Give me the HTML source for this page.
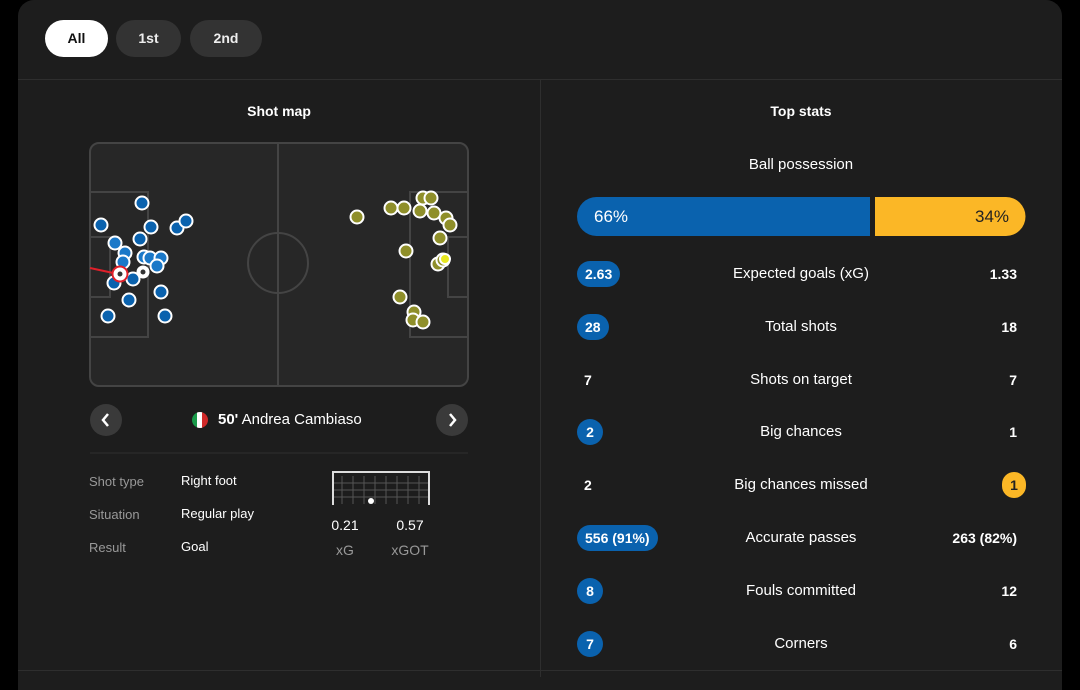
<!DOCTYPE html>
<html><head><meta charset="utf-8"><style>
*{margin:0;padding:0;box-sizing:border-box}
body{width:1080px;height:677px;background:#000;font-family:"Liberation Sans",sans-serif;color:#fff;position:relative;overflow:hidden}
.card{position:absolute;left:18px;top:0;width:1044px;height:690px;background:#1d1d1d;border-radius:16px 16px 0 0}
.btn{position:absolute;top:20px;height:37px;border-radius:19px;background:#333;color:#eee;font-size:14px;font-weight:bold;line-height:37px;text-align:center}
.t{position:absolute;font-size:14px}
.pill{position:absolute;left:577px;height:26px;border-radius:13px;background:#0a62ae;font-size:14px;font-weight:bold;line-height:26px;text-align:center;padding:0 8px}
.lab{position:absolute;left:640px;width:322px;text-align:center;font-size:15px}
.rv{position:absolute;right:63px;font-size:14px;font-weight:bold}
.lv{position:absolute;left:584px;font-size:14px;font-weight:bold}
.g{color:#999;font-size:13px}
</style></head><body>
<div class="card"></div>
<div class="btn" style="left:45px;width:63px;background:#fff;color:#111">All</div>
<div class="btn" style="left:116px;width:65px">1st</div>
<div class="btn" style="left:190px;width:72px">2nd</div>
<div style="position:absolute;left:18px;top:79px;width:1044px;height:1px;background:#2e2e2e"></div>
<div style="position:absolute;left:540px;top:80px;width:1px;height:597px;background:#2e2e2e"></div>
<div style="position:absolute;left:18px;top:670px;width:1044px;height:1px;background:#2e2e2e"></div>
<div class="t" style="left:90px;width:378px;text-align:center;top:103px;font-weight:bold">Shot map</div>
<div class="t" style="left:640px;width:322px;text-align:center;top:103px;font-weight:bold">Top stats</div>
<svg style="position:absolute;left:0;top:0" width="1080" height="677">
<g fill="none" stroke="#444" stroke-width="2">
<rect x="90" y="143" width="378" height="243" rx="9" fill="#272727"/>
<line x1="278" y1="143" x2="278" y2="386"/>
<circle cx="278" cy="263" r="30"/>
<rect x="90" y="192" width="58" height="145"/>
<rect x="90" y="237" width="20" height="60"/>
<rect x="410" y="192" width="58" height="145"/>
<rect x="448" y="237" width="20" height="60"/>
</g>
<line x1="90" y1="268" x2="118" y2="274" stroke="#e0202a" stroke-width="2"/>
<g stroke="#fff" stroke-width="2" fill="#0a62ae">
<circle cx="142" cy="203" r="6.5"/><circle cx="101" cy="225" r="6.5"/><circle cx="151" cy="227" r="6.5"/><circle cx="177" cy="228" r="6.5"/><circle cx="186" cy="221" r="6.5"/><circle cx="140" cy="239" r="6.5"/><circle cx="115" cy="243" r="6.5" fill="#1a78c8"/><circle cx="125" cy="253" r="6.5" fill="#1a78c8"/><circle cx="144" cy="257" r="6.5" fill="#1a78c8"/><circle cx="150" cy="258" r="6.5" fill="#1a78c8"/><circle cx="161" cy="258" r="6.5" fill="#1a78c8"/><circle cx="157" cy="266" r="6.5" fill="#1a78c8"/><circle cx="123" cy="262" r="6.5" fill="#1a78c8"/><circle cx="114" cy="283" r="6.5"/><circle cx="133" cy="279" r="6.5"/><circle cx="161" cy="292" r="6.5"/><circle cx="129" cy="300" r="6.5"/><circle cx="108" cy="316" r="6.5"/><circle cx="165" cy="316" r="6.5"/>
</g>
<circle cx="120" cy="274" r="7.5" fill="#fff" stroke="#e0202a" stroke-width="2"/><circle cx="120" cy="274" r="2.5" fill="#333"/>
<circle cx="143" cy="272" r="6.5" fill="#fff"/><circle cx="143" cy="272" r="2.5" fill="#333"/>
<g stroke="#fff" stroke-width="2" fill="#8f8f2a">
<circle cx="357" cy="217" r="6.5"/><circle cx="391" cy="208" r="6.5"/><circle cx="404" cy="208" r="6.5"/><circle cx="423" cy="198" r="6.5"/><circle cx="431" cy="198" r="6.5"/><circle cx="420" cy="211" r="6.5"/><circle cx="434" cy="213" r="6.5"/><circle cx="446" cy="218" r="6.5"/><circle cx="450" cy="225" r="6.5"/><circle cx="440" cy="238" r="6.5"/><circle cx="406" cy="251" r="6.5"/><circle cx="438" cy="264" r="6.5"/><circle cx="443" cy="260" r="6.5"/><circle cx="445" cy="259" r="5" fill="#e8e820"/><circle cx="400" cy="297" r="6.5"/><circle cx="414" cy="312" r="6.5"/><circle cx="413" cy="320" r="6.5"/><circle cx="423" cy="322" r="6.5"/>
</g>
<circle cx="106" cy="420" r="16" fill="#3a3a3a"/><path d="M108 414 L103 420 L108 426" stroke="#fff" stroke-width="2.5" fill="none"/>
<circle cx="452" cy="420" r="16" fill="#3a3a3a"/><path d="M450 414 L455 420 L450 426" stroke="#fff" stroke-width="2.5" fill="none"/>
<clipPath id="f"><circle cx="200" cy="420" r="8"/></clipPath>
<g clip-path="url(#f)"><rect x="192" y="412" width="6" height="16" fill="#1a9a4a"/><rect x="197" y="412" width="6" height="16" fill="#fff"/><rect x="202" y="412" width="6" height="16" fill="#d02a2a"/></g>
<line x1="90" y1="453" x2="468" y2="453" stroke="#2e2e2e"/>
<g stroke="#555" stroke-width="1" fill="none">
<path d="M342 476 V504 M353 476 V504 M364 476 V504 M375 476 V504 M386 476 V504 M397 476 V504 M408 476 V504 M419 476 V504 M333 483 H429 M333 490 H429 M333 497 H429"/>
</g>
<path d="M333 505 V472 H429 V505" stroke="#ddd" stroke-width="2" fill="none"/>
<circle cx="371" cy="501" r="3" fill="#fff"/>
<rect x="577" y="197" width="293" height="39" rx="19.5" fill="#0a62ae"/>
<path d="M875 197 H1006 A19.5 19.5 0 0 1 1006 236 H875 Z" fill="#fbb726"/>
<rect x="850" y="197" width="20" height="39" fill="#0a62ae"/>
</svg>
<div class="t" style="left:218px;top:411px;font-size:15px"><b>50'</b> Andrea Cambiaso</div>
<div class="t g" style="left:89px;top:474px">Shot type</div><div class="t" style="left:181px;top:473px;font-size:13px">Right foot</div>
<div class="t g" style="left:89px;top:507px">Situation</div><div class="t" style="left:181px;top:506px;font-size:13px">Regular play</div>
<div class="t g" style="left:89px;top:540px">Result</div><div class="t" style="left:181px;top:539px;font-size:13px">Goal</div>
<div class="t" style="left:325px;width:40px;text-align:center;top:517px">0.21</div>
<div class="t" style="left:390px;width:40px;text-align:center;top:517px">0.57</div>
<div class="t g" style="left:325px;width:40px;text-align:center;top:542px;font-size:14px">xG</div>
<div class="t g" style="left:385px;width:50px;text-align:center;top:542px;font-size:14px">xGOT</div>
<div class="lab" style="top:156px">Ball possession</div>
<div class="t" style="left:594px;top:207px;font-size:17px">66%</div>
<div class="t" style="left:975px;top:207px;font-size:17px;color:#222">34%</div>
<div class="pill" style="top:261px">2.63</div><div class="lab" style="top:265px">Expected goals (xG)</div><div class="rv" style="top:266px">1.33</div>
<div class="pill" style="top:314px">28</div><div class="lab" style="top:318px">Total shots</div><div class="rv" style="top:319px">18</div>
<div class="lv" style="top:372px">7</div><div class="lab" style="top:371px">Shots on target</div><div class="rv" style="top:372px">7</div>
<div class="pill" style="top:419px;width:26px;padding:0">2</div><div class="lab" style="top:423px">Big chances</div><div class="rv" style="top:424px">1</div>
<div class="lv" style="top:477px">2</div><div class="lab" style="top:476px">Big chances missed</div><div class="pill" style="top:472px;left:1002px;width:24px;padding:0;background:#fbb726;color:#222">1</div>
<div class="pill" style="top:525px">556 (91%)</div><div class="lab" style="top:529px">Accurate passes</div><div class="rv" style="top:530px">263 (82%)</div>
<div class="pill" style="top:578px;width:26px;padding:0">8</div><div class="lab" style="top:582px">Fouls committed</div><div class="rv" style="top:583px">12</div>
<div class="pill" style="top:631px;width:26px;padding:0">7</div><div class="lab" style="top:635px">Corners</div><div class="rv" style="top:636px">6</div>
</body></html>
